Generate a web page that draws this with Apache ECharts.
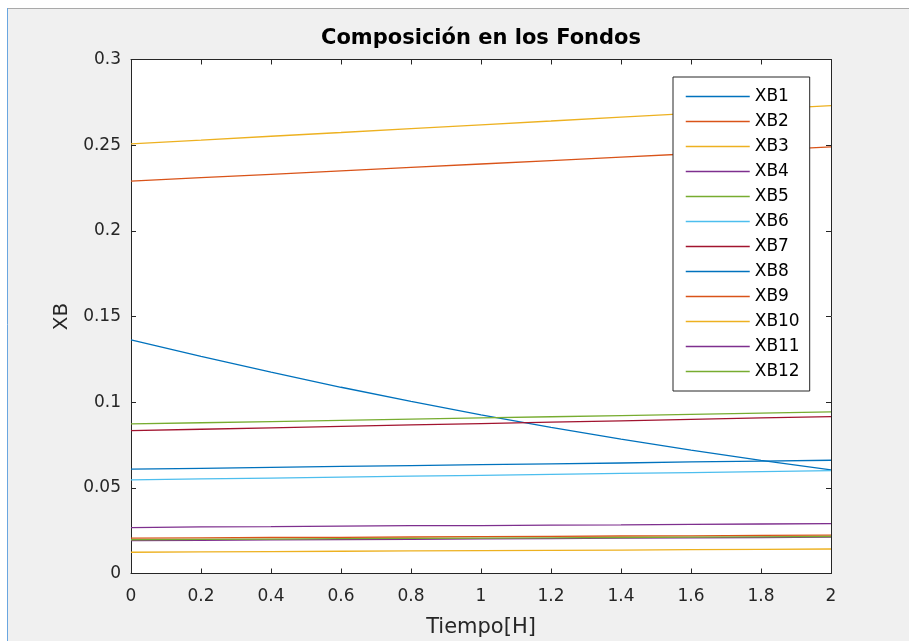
<!DOCTYPE html>
<html>
<head>
<meta charset="utf-8">
<style>
  html, body { margin: 0; padding: 0; background: #ffffff; }
  #chart { width: 909px; height: 641px; }
</style>
<script src="https://cdn.jsdelivr.net/npm/echarts@6/dist/echarts.min.js"></script>
</head>
<body>
<div id="chart"></div>
<script>
// Time samples [H]
const tiempo = [0, 0.2, 0.4, 0.6, 0.8, 1.0, 1.2, 1.4, 1.6, 1.8, 2.0];

// Bottoms composition per component
const XB1  = [0.1364, 0.1267, 0.1175, 0.1087, 0.1004, 0.0926, 0.0853, 0.0784, 0.0720, 0.0660, 0.0605];
const XB2  = [0.2290, 0.2310, 0.2330, 0.2350, 0.2370, 0.2390, 0.2410, 0.2430, 0.2450, 0.2470, 0.2490];
const XB3  = [0.2507, 0.2529, 0.2552, 0.2574, 0.2597, 0.2619, 0.2641, 0.2664, 0.2686, 0.2709, 0.2731];
const XB4  = [0.0268, 0.0272, 0.0274, 0.0277, 0.0279, 0.0280, 0.0282, 0.0284, 0.0287, 0.0289, 0.0291];
const XB5  = [0.0873, 0.0880, 0.0887, 0.0894, 0.0901, 0.0908, 0.0915, 0.0922, 0.0929, 0.0936, 0.0943];
const XB6  = [0.0546, 0.0552, 0.0557, 0.0562, 0.0568, 0.0573, 0.0579, 0.0584, 0.0589, 0.0595, 0.0600];
const XB7  = [0.0834, 0.0842, 0.0850, 0.0859, 0.0867, 0.0875, 0.0883, 0.0891, 0.0900, 0.0908, 0.0916];
const XB8  = [0.0609, 0.0614, 0.0619, 0.0625, 0.0630, 0.0635, 0.0640, 0.0645, 0.0651, 0.0656, 0.0661];
const XB9  = [0.0206, 0.0208, 0.0210, 0.0211, 0.0213, 0.0215, 0.0217, 0.0219, 0.0220, 0.0222, 0.0224];
const XB10 = [0.0124, 0.0126, 0.0128, 0.0130, 0.0132, 0.0134, 0.0135, 0.0137, 0.0139, 0.0141, 0.0143];
const XB11 = [0.0192, 0.0194, 0.0196, 0.0198, 0.0200, 0.0202, 0.0204, 0.0206, 0.0208, 0.0210, 0.0212];
const XB12 = [0.0197, 0.0199, 0.0201, 0.0203, 0.0205, 0.0207, 0.0208, 0.0210, 0.0212, 0.0214, 0.0216];

const nombres = ['XB1', 'XB2', 'XB3', 'XB4', 'XB5', 'XB6', 'XB7', 'XB8', 'XB9', 'XB10', 'XB11', 'XB12'];
const valores = [XB1, XB2, XB3, XB4, XB5, XB6, XB7, XB8, XB9, XB10, XB11, XB12];

// Default MATLAB line color order (cycles every 7)
const colores = ['#0072BD', '#D95319', '#EDB120', '#7E2F8E', '#77AC30', '#4DBEEE', '#A2142F'];

const FONT = 'DejaVu Sans';
const INK = '#262626';

const series = nombres.map((n, i) => ({
  name: n,
  type: 'line',
  xAxisIndex: 0,
  yAxisIndex: 0,
  symbol: 'none',
  smooth: false,
  animation: false,
  data: tiempo.map((t, k) => [t, valores[i][k]]),
  color: colores[i % colores.length],
  lineStyle: { width: 1.3, color: colores[i % colores.length] }
}));

const xBase = {
  type: 'value', min: 0, max: 2, interval: 0.2,
  axisLine: { show: true, onZero: false, lineStyle: { color: INK, width: 1 } },
  axisTick: { show: true, inside: true, length: 5, lineStyle: { color: INK } },
  splitLine: { show: false }
};
const yBase = {
  type: 'value', min: 0, max: 0.3, interval: 0.05,
  axisLine: { show: true, onZero: false, lineStyle: { color: INK, width: 1 } },
  axisTick: { show: true, inside: true, length: 5, lineStyle: { color: INK } },
  splitLine: { show: false }
};

const chart = echarts.init(document.getElementById('chart'), null, { renderer: 'canvas' });
chart.setOption({
  animation: false,
  backgroundColor: '#f0f0f0',
  textStyle: { fontFamily: FONT },
  title: {
    text: 'Composición en los Fondos',
    left: 481, top: 28, textAlign: 'center', padding: 0,
    textStyle: { fontFamily: FONT, fontSize: 21, fontWeight: 'bold', color: '#000' }
  },
  grid: {
    left: 131, right: 78, top: 59.5, bottom: 67.5,
    outerBoundsMode: 'none',
    containLabel: false,
    show: true, backgroundColor: '#ffffff', borderWidth: 0
  },
  legend: {
    orient: 'vertical',
    left: 673, top: 77,
    padding: [11, 10, 11, 12],
    itemWidth: 64, itemHeight: 17, itemGap: 8,
    backgroundColor: '#ffffff',
    borderColor: INK, borderWidth: 1, borderRadius: 0,
    data: nombres,
    itemStyle: { opacity: 0, borderWidth: 0 },
    lineStyle: { width: 1.5 },
    textStyle: { fontFamily: FONT, fontSize: 17, lineHeight: 17, color: '#000' }
  },
  xAxis: [
    Object.assign({}, xBase, {
      position: 'bottom',
      name: 'Tiempo[H]', nameLocation: 'middle', nameGap: 44,
      nameTextStyle: { fontFamily: FONT, fontSize: 21, color: INK },
      axisLabel: { show: true, margin: 15, fontFamily: FONT, fontSize: 17, color: INK }
    }),
    Object.assign({}, xBase, { position: 'top', axisLabel: { show: false } })
  ],
  yAxis: [
    Object.assign({}, yBase, {
      position: 'left',
      name: 'XB', nameLocation: 'middle', nameGap: 57, nameRotate: 90,
      nameTextStyle: { fontFamily: FONT, fontSize: 20, color: INK },
      axisLabel: { show: true, margin: 10, fontFamily: FONT, fontSize: 17, color: INK }
    }),
    Object.assign({}, yBase, { position: 'right', axisLabel: { show: false } })
  ],
  graphic: [
    { type: 'rect', shape: { x: 0, y: 0, width: 909, height: 8 }, style: { fill: '#ffffff' }, silent: true },
    { type: 'rect', shape: { x: 0, y: 0, width: 7, height: 641 }, style: { fill: '#ffffff' }, silent: true },
    { type: 'line', shape: { x1: 7, y1: 8.5, x2: 909, y2: 8.5 }, style: { stroke: '#a9a9a9', lineWidth: 1 }, silent: true },
    { type: 'line', shape: { x1: 7.5, y1: 8, x2: 7.5, y2: 641 }, style: { stroke: '#6aa6e0', lineWidth: 1 }, silent: true }
  ],
  series: series
});
</script>
</body>
</html>
